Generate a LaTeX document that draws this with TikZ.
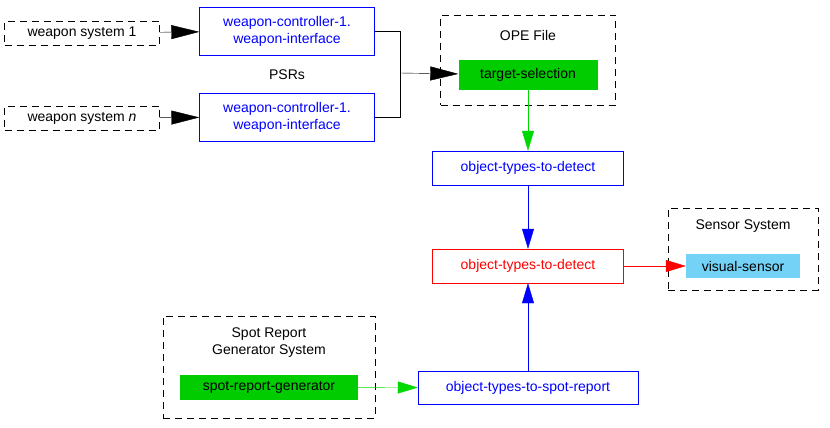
\documentclass[tikz,border=0pt]{standalone}
\usepackage{fontspec}
\setmainfont{Liberation Sans}
\usetikzlibrary{arrows.meta}
\begin{document}
\begin{tikzpicture}[x=1pt,y=-1pt,font=\fontsize{14}{17}\selectfont,
  every node/.style={inner sep=3pt,align=center},
  ext/.style={draw=black,dash pattern=on 7pt off 5pt},
  psr/.style={draw=blue,text=blue},
  comp/.style={fill=green!80!black},
  big/.style={-{Triangle[length=28pt,width=14pt]}},
  mid/.style={-{Triangle[length=20pt,width=12pt]}}]

	\useasboundingbox (0,0) rectangle (830,428);

	% outer systems
	\node[ext,minimum width=155pt,minimum height=24pt] (ws1) at (82,33) {weapon system 1};
	\node[ext,minimum width=155pt,minimum height=24pt] (wsn) at (82,118) {weapon system \textit{n}};
	\node[ext,minimum width=175pt,minimum height=90pt] (ope) at (528,60) {};
	\node at (528,35) {OPE File};
	\node[ext,minimum width=150pt,minimum height=82pt] (sens) at (743,249) {};
	\node at (743,226) {Sensor System};
	\node[ext,minimum width=212pt,minimum height=102pt] (spot) at (269,367) {};
	\node at (269,343) {Spot Report\\Generator System};

	% PSRs
	\node[psr,minimum width=175pt,minimum height=48pt] (wc1) at (287,31) {weapon-controller-1.\\weapon-interface};
	\node[psr,minimum width=175pt,minimum height=48pt] (wcn) at (287,117) {weapon-controller-1.\\weapon-interface};
	\node at (287,75) {PSRs};
	\node[comp,minimum width=139pt,minimum height=30pt] (ts) at (528,75) {target-selection};
	\node[psr,minimum width=191pt,minimum height=34pt] (ot1) at (528,168) {object-types-to-detect};
	\node[draw=red,text=red,minimum width=191pt,minimum height=34pt] (ot2) at (528,266) {object-types-to-detect};
	\node[fill=cyan!55,minimum width=114pt,minimum height=24pt] (vs) at (743,266) {visual-sensor};
	\node[comp,minimum width=178pt,minimum height=25pt] (srg) at (269,387) {spot-report-generator};
	\node[psr,minimum width=220pt,minimum height=33pt] (otsr) at (528,388) {object-types-to-spot-report};

	\coordinate (j) at (400,73);

	% connectors
	\draw[big] (ws1) -- (wc1);
	\draw[big] (wsn) -- (wcn);
	\draw (wc1.east) -| (j);
	\draw (wcn.east) -| (j);
	\draw[big] (j) -- (ts);
	\draw[mid,green!85!black] (ts) -- (ot1);
	\draw[mid,blue] (ot1) -- (ot2);
	\draw[mid,red] (ot2) -- (vs);
	\draw[mid,green!85!black] (srg) -- (otsr);
	\draw[mid,blue] (otsr) -- (ot2);
\end{tikzpicture}
\end{document}
